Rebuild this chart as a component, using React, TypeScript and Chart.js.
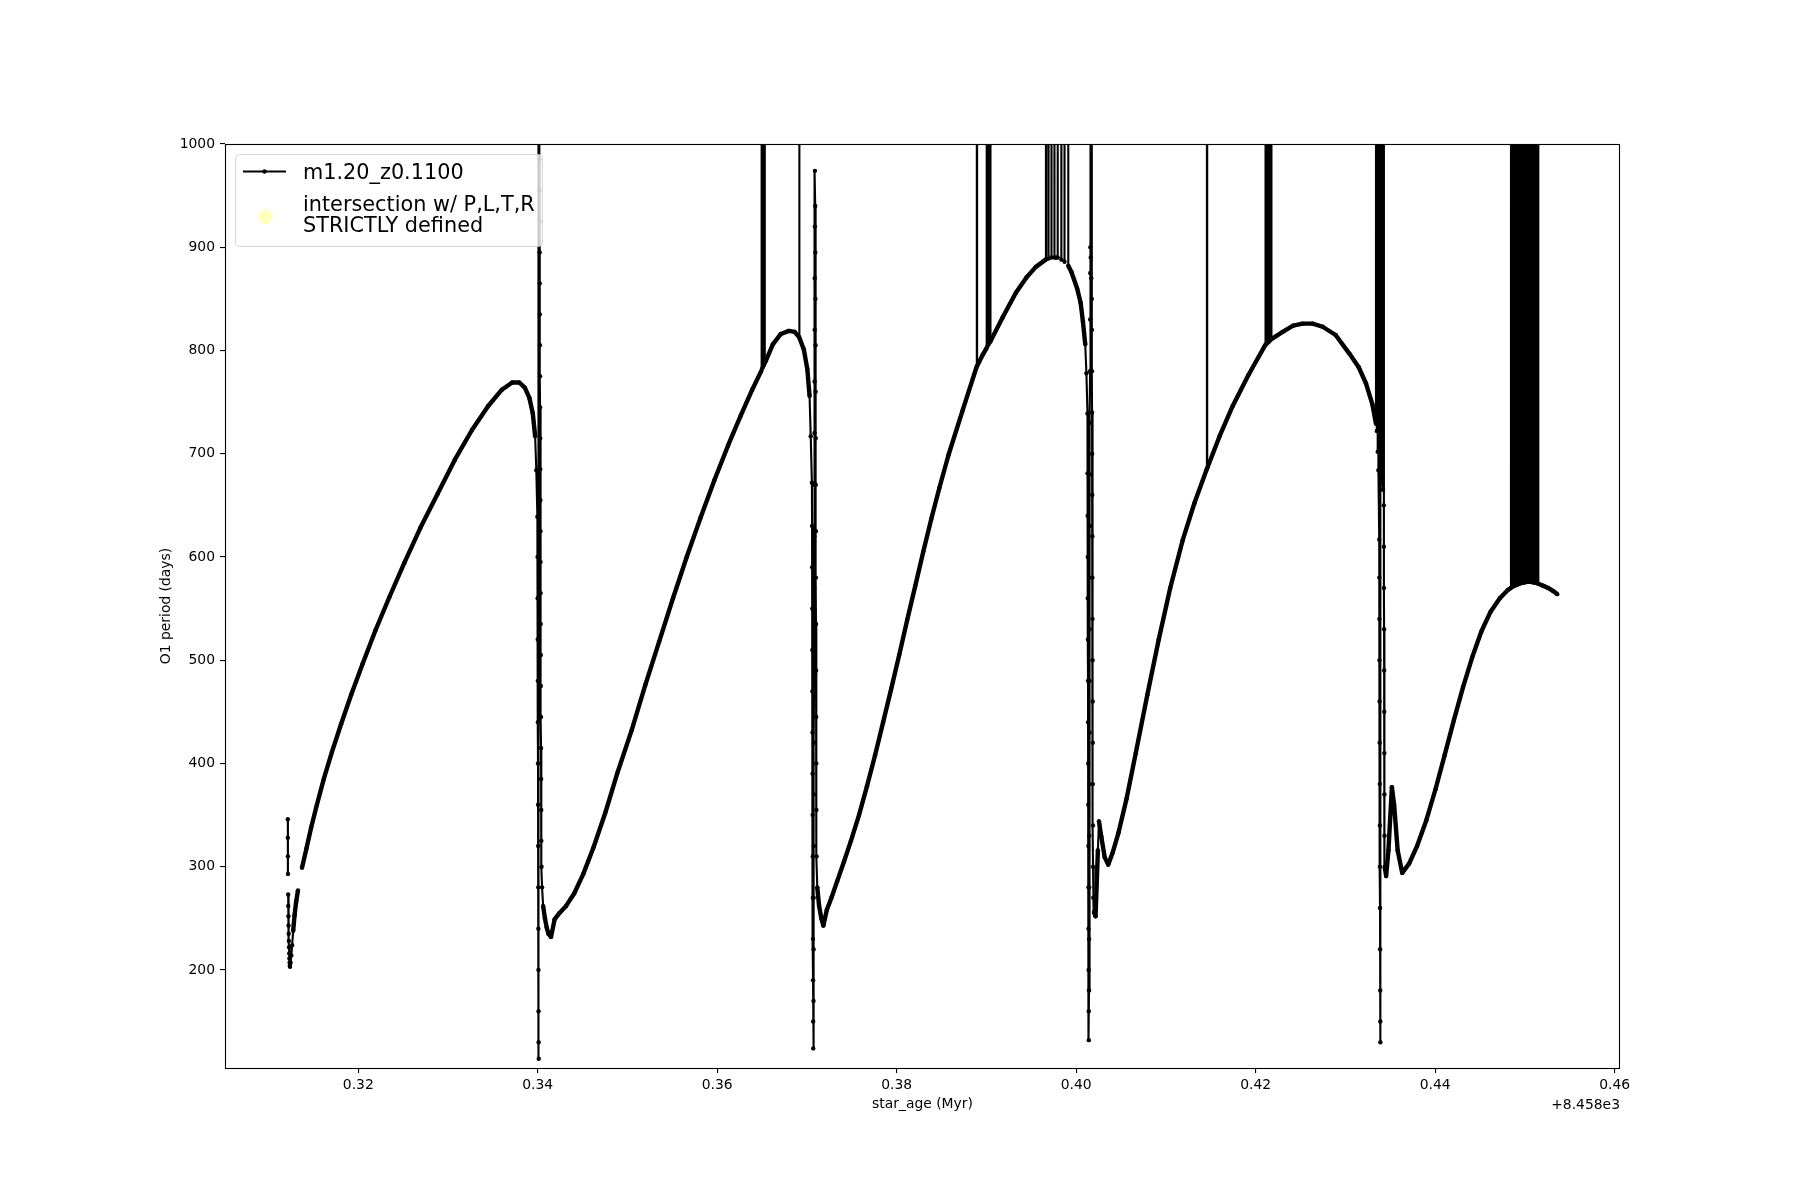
import React, { useEffect, useRef } from 'react';
import { Chart, registerables } from 'chart.js';

Chart.register(...registerables);

// ---- axis settings (star_age shown as offset from 8458 Myr) ----
const AGE_OFFSET_LABEL = '+8.458e3';
const X_TICKS = [0.32, 0.34, 0.36, 0.38, 0.40, 0.42, 0.44, 0.46];
const Y_TICKS = [200, 300, 400, 500, 600, 700, 800, 900, 1000];
const X_RANGE = [0.30515, 0.4606];
const Y_RANGE = [105, 1000];

// period values that shoot far above the 1000-day axis limit
const ABOVE = 10000;

// ---- series: [star_age - 8458 (Myr), O1 period (days)] ; null = gap ----
const FRAGMENT_START: [number, number | null][] = [
  [0.31215, 346], [0.31215, 328], [0.31216, 310], [0.31217, 293], [0.31217, null],
  [0.31219, 273], [0.3122, 262], [0.31222, 252], [0.31223, 243], [0.31225, 235], [0.31227, 228],
  [0.31229, 222], [0.31231, 216], [0.31233, 211], [0.31235, 207], [0.31237, 204], [0.3124, 203],
  [0.31246, 207], [0.31254, 214], [0.31263, 224], [0.31275, 238], [0.3129, 253], [0.31308, 266],
  [0.31328, 277], [0.3134, null],
];

const CYCLE_1: [number, number | null][] = [
  [0.31373, 299], [0.31424, 318], [0.31475, 338], [0.31539, 360], [0.31616, 385], [0.31706, 411],
  [0.31808, 438], [0.31923, 467], [0.32051, 497], [0.32192, 529], [0.32346, 561], [0.32512, 594],
  [0.32691, 628], [0.32883, 661], [0.33075, 694], [0.33267, 723], [0.33446, 746], [0.336, 762],
  [0.33715, 769], [0.33792, 769], [0.33856, 764], [0.33907, 754], [0.33945, 739], [0.33971, 717],
  [0.33984, 684], [0.33996, 639],
];

const PULSE_1: [number, number | null][] = [
  [0.33998, 600], [0.33999, 560], [0.34, 520], [0.34001, 480], [0.34002, 440], [0.34003, 400],
  [0.34004, 360], [0.34005, 320], [0.34006, 280], [0.34007, 240], [0.34008, 200], [0.34009, 160],
  [0.3401, 130], [0.34011, 114], [0.34013, ABOVE],
  [0.34018, 985], [0.34019, 955], [0.3402, 925], [0.34021, 895], [0.34022, 865], [0.34023, 835],
  [0.34024, 805], [0.34025, 775], [0.34026, 745], [0.34027, 715], [0.34028, 685], [0.34029, 655],
  [0.3403, 625], [0.34031, 595], [0.34032, 565], [0.34033, 535], [0.34034, 505], [0.34035, 475],
  [0.34036, 445], [0.34037, 415], [0.34038, 385], [0.34039, 355], [0.3404, 325], [0.34042, 300],
  [0.34048, 280], [0.3406, 262], [0.3408, 250], [0.341, 241], [0.3412, 235], [0.34148, 232],
];

const CYCLE_2: [number, number | null][] = [
  [0.34188, 249], [0.3424, 255], [0.34316, 262], [0.34406, 274], [0.34508, 293], [0.34623, 319],
  [0.34752, 352], [0.34892, 392], [0.35046, 432], [0.35199, 476], [0.35353, 518], [0.35507, 560],
  [0.3566, 600], [0.35814, 638], [0.35967, 674], [0.36121, 708], [0.36262, 737], [0.3639, 762],
  [0.3649, 780], [0.36492, ABOVE], [0.36498, 782], [0.36504, ABOVE], [0.3651, 784], [0.36516, ABOVE],
  [0.36522, 786], [0.36528, ABOVE], [0.36532, 788],
  [0.3662, 806], [0.36709, 816], [0.36799, 819], [0.36863, 818], [0.36912, 813], [0.36914, ABOVE],
  [0.36917, 812], [0.36965, 801], [0.37004, 782], [0.37029, 756], [0.37042, 717], [0.37055, 672],
];

const PULSE_2: [number, number | null][] = [
  [0.37057, 630], [0.37058, 590], [0.37059, 550], [0.3706, 510], [0.37061, 470], [0.37062, 430],
  [0.37063, 390], [0.37064, 350], [0.37065, 310], [0.37066, 270], [0.37067, 230], [0.37068, 190],
  [0.37069, 150], [0.3707, 124],
  [0.37073, 170], [0.37074, 220], [0.37075, 270], [0.37076, 320], [0.37077, 370], [0.37078, 420],
  [0.37079, 470], [0.3708, 520], [0.37081, 570], [0.37082, 620], [0.37083, 670], [0.37084, 720],
  [0.37085, 770], [0.37086, 820], [0.37087, 870], [0.37088, 920], [0.37089, 974],
  [0.37092, 940], [0.37093, 895], [0.37094, 850], [0.37095, 805], [0.37096, 760], [0.37097, 715],
  [0.37098, 670], [0.37099, 625], [0.371, 580], [0.37101, 535], [0.37102, 490], [0.37103, 445],
  [0.37104, 400], [0.37105, 355], [0.37107, 310], [0.37115, 280], [0.37135, 262], [0.3716, 250],
  [0.37183, 243],
];

const CYCLE_3: [number, number | null][] = [
  [0.37221, 258], [0.37273, 270], [0.37337, 286], [0.37413, 305], [0.3749, 325], [0.3758, 350],
  [0.37669, 378], [0.37759, 408], [0.37849, 440], [0.37938, 472], [0.38028, 505], [0.38117, 539],
  [0.38207, 572], [0.38296, 605], [0.38386, 637], [0.38476, 667], [0.38578, 699], [0.38731, 741],
  [0.3889, 784], [0.38893, ABOVE], [0.38896, 785], [0.3896, 796],
  [0.39, 802], [0.39003, ABOVE], [0.3901, 804], [0.39017, ABOVE], [0.39024, 806], [0.39031, ABOVE],
  [0.39038, 808], [0.39041, ABOVE], [0.39045, 809],
  [0.3918, 832], [0.39328, 856], [0.39448, 871], [0.39551, 881], [0.3966, 888],
  [0.39663, ABOVE], [0.39666, 888.5], [0.39689, ABOVE], [0.39692, 889], [0.39722, ABOVE], [0.39725, 890],
  [0.39755, ABOVE], [0.39758, 890], [0.39794, 890], [0.39832, ABOVE], [0.39835, 888], [0.39867, ABOVE],
  [0.3987, 886], [0.39909, ABOVE], [0.39912, 882],
  [0.39947, 876], [0.40011, 860], [0.4005, 846], [0.40075, 828], [0.40101, 806], [0.40114, 778],
  [0.40126, 739], [0.40127, 681],
];

const PULSE_3: [number, number | null][] = [
  [0.40128, 640], [0.40129, 600], [0.4013, 560], [0.40131, 520], [0.40132, 480], [0.40133, 440],
  [0.40134, 400], [0.40135, 360], [0.40136, 320], [0.40137, 280], [0.40138, 240], [0.40139, 200],
  [0.4014, 160], [0.40141, 132],
  [0.40143, 180], [0.40144, 230], [0.40145, 280], [0.40146, 330], [0.40147, 380], [0.40148, 430],
  [0.40149, 480], [0.4015, 530], [0.40151, 580], [0.40152, 630], [0.40153, 680], [0.40154, 730],
  [0.40155, 780], [0.40156, 830], [0.40157, 875], [0.40158, 900],
  [0.40159, ABOVE], [0.40162, 890], [0.40165, ABOVE], [0.40168, 870], [0.40171, ABOVE], [0.40174, 850],
  [0.40175, 820], [0.40176, 780], [0.40177, 740], [0.40178, 700], [0.40179, 660], [0.4018, 620],
  [0.40181, 580], [0.40182, 540], [0.40183, 500], [0.40184, 460], [0.40185, 420], [0.40186, 380],
  [0.40187, 340], [0.40188, 300], [0.4019, 270], [0.40198, 256], [0.40216, 252], [0.40242, 316],
  [0.40254, 344], [0.4028, 329], [0.40318, 309], [0.40357, 302],
];

const CYCLE_4: [number, number | null][] = [
  [0.40408, 314], [0.40472, 333], [0.40562, 366], [0.40664, 410], [0.40792, 466], [0.4092, 520],
  [0.41048, 570], [0.41186, 616], [0.41317, 652], [0.41455, 685], [0.41457, ABOVE], [0.4146, 686],
  [0.41598, 717], [0.41743, 746], [0.41918, 776], [0.42105, 805],
  [0.4211, ABOVE], [0.42116, 806], [0.42122, ABOVE], [0.42128, 807], [0.42134, ABOVE], [0.4214, 808],
  [0.42146, ABOVE], [0.42152, 809], [0.42158, ABOVE], [0.42164, 810], [0.4217, ABOVE], [0.42176, 811],
  [0.42301, 818], [0.42417, 824], [0.42523, 826], [0.42635, 826], [0.42746, 823], [0.42891, 815],
  [0.43044, 797], [0.43147, 784], [0.4323, 768], [0.433, 748], [0.43341, 729],
  [0.43345, ABOVE], [0.4335, 722], [0.43355, ABOVE], [0.4336, 702], [0.43364, ABOVE], [0.43368, 684],
  [0.43377, 617],
];

const PULSE_4: [number, number | null][] = [
  [0.43378, 580], [0.43379, 540], [0.4338, 500], [0.43381, 460], [0.43382, 420], [0.43383, 380],
  [0.43384, 340], [0.43385, 300], [0.43386, 260], [0.43387, 220], [0.43388, 180], [0.43389, 150],
  [0.4339, 130],
  [0.43394, ABOVE], [0.43399, 700], [0.43404, ABOVE], [0.43409, 680], [0.43414, ABOVE], [0.43419, 665],
  [0.43424, ABOVE], [0.43428, 650],
  [0.43429, 610], [0.4343, 570], [0.43431, 530], [0.43432, 490], [0.43433, 450], [0.43434, 410],
  [0.43435, 370], [0.43436, 330], [0.43438, 300], [0.43454, 291], [0.4348, 316], [0.43518, 377],
  [0.43543, 360], [0.43582, 316], [0.43633, 294],
];

const CYCLE_5: [number, number | null][] = [
  [0.4371, 303], [0.43799, 320], [0.43902, 345], [0.44004, 375], [0.44106, 408], [0.44209, 442],
  [0.44311, 474], [0.44414, 503], [0.44516, 528], [0.44618, 547], [0.44721, 560], [0.4481, 568],
  [0.44845, 570],
  [0.4485, ABOVE], [0.44857, 571], [0.44864, ABOVE], [0.44871, 571.5], [0.44878, ABOVE], [0.44885, 572],
  [0.44892, ABOVE], [0.44899, 572.5], [0.44906, ABOVE], [0.44913, 573], [0.4492, ABOVE], [0.44927, 573.5],
  [0.44934, ABOVE], [0.44941, 574], [0.44948, ABOVE], [0.44955, 574.5], [0.44962, ABOVE], [0.44969, 575],
  [0.44976, ABOVE], [0.44983, 575], [0.4499, ABOVE], [0.44997, 575.5], [0.45004, ABOVE], [0.45011, 575.5],
  [0.45018, ABOVE], [0.45025, 576], [0.45032, ABOVE], [0.45039, 576], [0.45046, ABOVE], [0.45053, 576],
  [0.4506, ABOVE], [0.45067, 576], [0.45074, ABOVE], [0.45081, 575.5], [0.45088, ABOVE], [0.45095, 575.5],
  [0.45102, ABOVE], [0.45109, 575], [0.45116, ABOVE], [0.45123, 575], [0.4513, ABOVE], [0.45137, 574.5],
  [0.45144, ABOVE], [0.4515, 574],
  [0.45207, 572], [0.4526, 570], [0.45315, 567], [0.45361, 564],
];

const SERIES_LABEL = 'm1.20_z0.1100';
const INTERSECTION_LABEL = 'intersection w/ P,L,T,R\nSTRICTLY defined';
const X_TITLE = 'star_age (Myr)';
const Y_TITLE = 'O1 period (days)';

const FONT = "'DejaVu Sans', 'Liberation Sans', sans-serif";

const framePlugin = {
  id: 'frameLegendOffset',
  afterDraw(chart: any) {
    const { ctx, chartArea } = chart;
    const { left, right, top, bottom } = chartArea;
    ctx.save();
    // axes frame
    ctx.strokeStyle = '#000';
    ctx.lineWidth = 1.1;
    ctx.strokeRect(left + 0.5, top + 0.5, right - left - 1, bottom - top);

    // offset text for x axis
    ctx.fillStyle = '#000';
    ctx.font = `13.9px ${FONT}`;
    ctx.textAlign = 'right';
    ctx.textBaseline = 'middle';
    ctx.fillText(AGE_OFFSET_LABEL, right, bottom + 37);

    // legend
    const lx = left + 10.5;
    const ly = top + 10.5;
    const lw = 307;
    const lh = 92;
    ctx.beginPath();
    if ((ctx as any).roundRect) (ctx as any).roundRect(lx, ly, lw, lh, 4);
    else ctx.rect(lx, ly, lw, lh);
    ctx.fillStyle = 'rgba(255,255,255,0.8)';
    ctx.fill();
    ctx.strokeStyle = 'rgba(204,204,204,0.8)';
    ctx.lineWidth = 1;
    ctx.stroke();

    const ds = chart.data.datasets;
    // entry 1: line with point marker
    const hy = top + 27.5;
    ctx.strokeStyle = '#000';
    ctx.lineWidth = 2.1;
    ctx.beginPath();
    ctx.moveTo(lx + 7.5, hy);
    ctx.lineTo(lx + 50.5, hy);
    ctx.stroke();
    ctx.fillStyle = '#000';
    ctx.beginPath();
    ctx.arc(lx + 29, hy, 2.2, 0, Math.PI * 2);
    ctx.fill();
    ctx.font = `20.8px ${FONT}`;
    ctx.textAlign = 'left';
    ctx.textBaseline = 'alphabetic';
    ctx.fillText(ds[0].label, lx + 67.5, top + 35);

    // entry 2: yellow circle, two-line label
    ctx.fillStyle = ds[1].pointBackgroundColor;
    ctx.beginPath();
    ctx.arc(lx + 30, top + 72.5, 7.3, 0, Math.PI * 2);
    ctx.fill();
    ctx.fillStyle = '#000';
    const lines = String(ds[1].label).split('\n');
    lines.forEach((t: string, i: number) => {
      ctx.fillText(t, lx + 67.5, top + 66.5 + i * 21.5);
    });
    ctx.restore();
  },
};

function toPoints() {
  const all = [
    ...FRAGMENT_START, ...CYCLE_1, ...PULSE_1, ...CYCLE_2, ...PULSE_2,
    ...CYCLE_3, ...PULSE_3, ...CYCLE_4, ...PULSE_4, ...CYCLE_5,
  ];
  return all.map(([x, y]) => ({ x, y }));
}

export default function App() {
  const canvasRef = useRef<HTMLCanvasElement | null>(null);

  useEffect(() => {
    if (!canvasRef.current) return;
    const tickFont = { family: FONT, size: 13.9 };
    const chart = new Chart(canvasRef.current, {
      type: 'scatter',
      data: {
        datasets: [
          {
            label: SERIES_LABEL,
            data: toPoints(),
            showLine: true,
            spanGaps: false,
            borderColor: '#000',
            borderWidth: 2.1,
            borderJoinStyle: 'round',
            pointRadius: 2.2,
            pointBackgroundColor: '#000',
            pointBorderWidth: 0,
            pointHoverRadius: 2.2,
            pointHitRadius: 0,
            clip: 0,
            segment: {
              borderWidth: (c: any) => {
                const off = c.p0.y < 0 || c.p1.y < 0;
                const steep = Math.abs(c.p1.x - c.p0.x) < 1.2;
                return off || steep ? 2.1 : 4.4;
              },
            },
          } as any,
          {
            label: INTERSECTION_LABEL,
            data: [],
            showLine: false,
            pointRadius: 7,
            pointBackgroundColor: 'rgba(255,255,0,0.25)',
            pointBorderWidth: 0,
          } as any,
        ],
      },
      options: {
        animation: false,
        responsive: false,
        devicePixelRatio: 1,
        events: [],
        layout: { padding: { top: 144, right: 180, bottom: 0, left: 0 } },
        plugins: { legend: { display: false }, tooltip: { enabled: false } },
        scales: {
          x: {
            type: 'linear',
            min: X_RANGE[0],
            max: X_RANGE[1],
            afterBuildTicks: (s: any) => {
              s.ticks = X_TICKS.map((v) => ({ value: v }));
            },
            afterFit: (s: any) => {
              s.height = 132;
            },
            ticks: {
              callback: (v: any) => Number(v).toFixed(2),
              color: '#000',
              font: tickFont,
              padding: 4.5,
              maxRotation: 0,
              autoSkip: false,
            },
            grid: { drawOnChartArea: false, drawTicks: true, tickLength: 5, color: '#000', lineWidth: 1.1 },
            border: { display: false },
            title: {
              display: true,
              text: X_TITLE,
              color: '#000',
              font: tickFont,
              padding: { top: 0, bottom: 87 },
            },
          },
          y: {
            type: 'linear',
            min: Y_RANGE[0],
            max: Y_RANGE[1],
            afterBuildTicks: (s: any) => {
              s.ticks = Y_TICKS.map((v) => ({ value: v }));
            },
            afterFit: (s: any) => {
              s.width = 225;
            },
            ticks: {
              callback: (v: any) => String(v),
              color: '#000',
              font: tickFont,
              padding: 5,
              autoSkip: false,
            },
            grid: { drawOnChartArea: false, drawTicks: true, tickLength: 5, color: '#000', lineWidth: 1.1 },
            border: { display: false },
            title: {
              display: true,
              text: Y_TITLE,
              color: '#000',
              font: tickFont,
              padding: { top: 158, bottom: 0 },
            },
          },
        },
      } as any,
      plugins: [framePlugin],
    });
    return () => chart.destroy();
  }, []);

  return (
    <div style={{ position: 'absolute', left: 0, top: 0, width: 1800, height: 1200, background: '#fff' }}>
      <canvas ref={canvasRef} width={1800} height={1200} style={{ display: 'block', width: 1800, height: 1200 }} />
    </div>
  );
}
